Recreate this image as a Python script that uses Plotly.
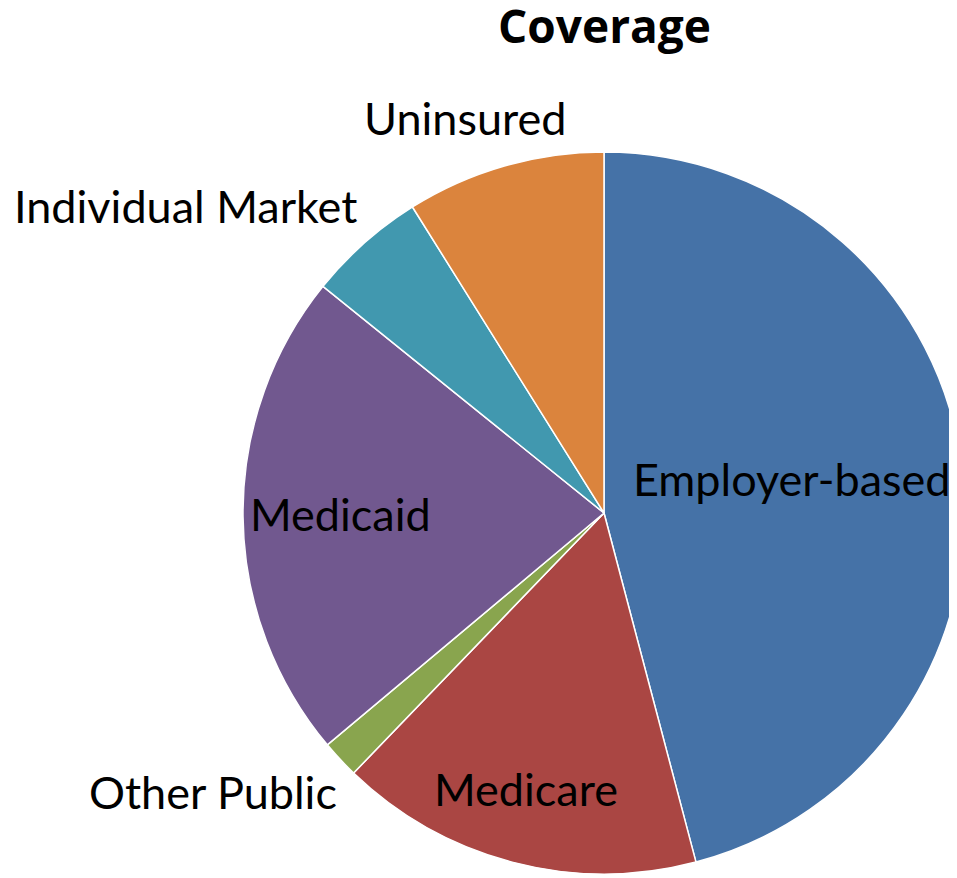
import plotly.graph_objects as go

# ---- data ----
categories = ["Employer-based", "Medicare", "Other Public", "Medicaid", "Individual Market", "Uninsured"]
values = [45.9, 16.3, 1.7, 21.9, 5.3, 8.9]
colors = ["#4572A7", "#AA4643", "#89A54E", "#71588F", "#4198AF", "#DB843D"]
title_text = "Coverage"

# ---- layout helpers (pixels, figure coordinates) ----
W, H = 957, 878
def px(x):
    return x / W
def py(y):
    return 1 - y / H

cx, cy, r = 596, 505, 361

label_pos = {
    "Employer-based": (783.5, 470.5),
    "Medicare": (518, 781),
    "Other Public": (205, 784),
    "Medicaid": (332.5, 506),
    "Individual Market": (177, 197.5),
    "Uninsured": (457, 110.5),
}

fig = go.Figure(go.Pie(
    labels=categories,
    values=values,
    sort=False,
    direction="clockwise",
    rotation=0,
    marker=dict(colors=colors, line=dict(color="white", width=1.5)),
    textinfo="none",
    hoverinfo="label+percent",
    showlegend=False,
    domain=dict(x=[px(cx - r), min(1, px(cx + r))], y=[py(cy + r), py(cy - r)]),
))

FONT = "Lato, Carlito, Calibri, sans-serif"
annotations = []
for name in categories:
    x, y = label_pos[name]
    annotations.append(dict(
        x=px(x), y=py(y), xref="paper", yref="paper",
        text=name, showarrow=False, xanchor="center", yanchor="middle",
        font=dict(family=FONT, size=45, color="black"),
    ))
annotations.append(dict(
    x=px(596.5), y=py(17), xref="paper", yref="paper",
    text="<b>" + title_text + "</b>", showarrow=False,
    xanchor="center", yanchor="middle",
    font=dict(family="Open Sans, sans-serif", size=46, color="black"),
))

fig.update_layout(
    width=W, height=H,
    margin=dict(l=0, r=0, t=0, b=0),
    paper_bgcolor="white",
    plot_bgcolor="white",
    annotations=annotations,
)

fig.write_html("out.html")
